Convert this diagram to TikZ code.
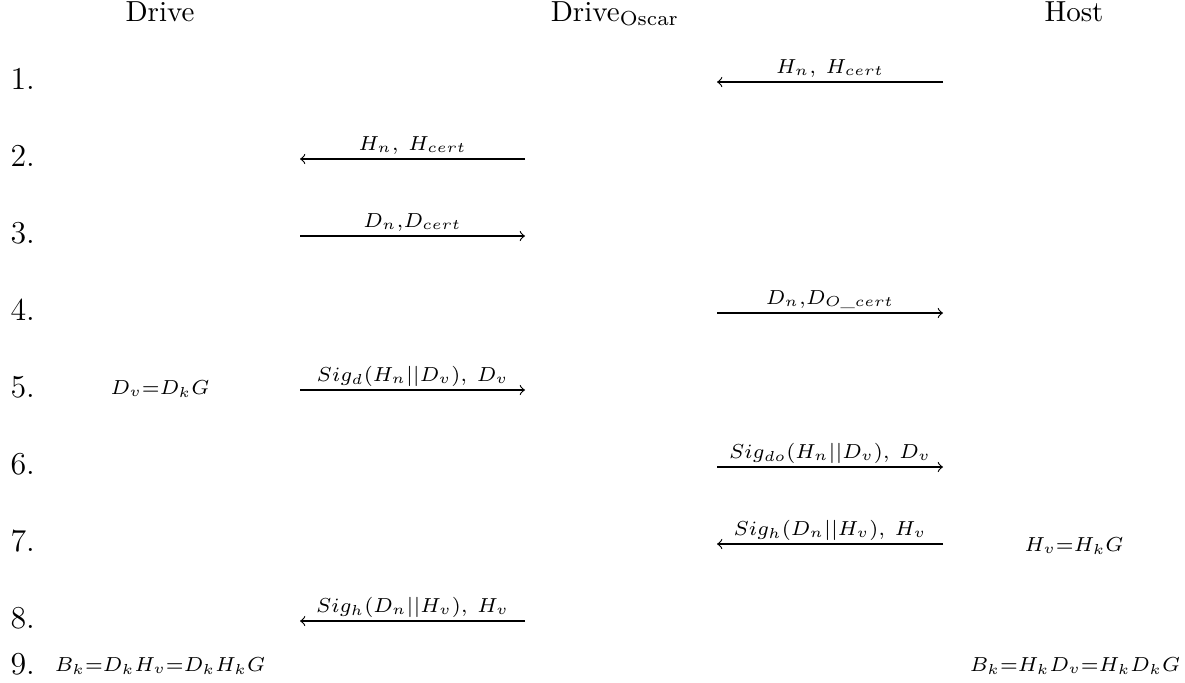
\documentclass[tikz,border=0pt]{standalone}
\usepackage{amsmath}
\begin{document}
\begin{tikzpicture}[x=0.3448pt,y=-0.3448pt,
  num/.style={font=\fontsize{11}{13}\selectfont, anchor=base west, inner sep=0pt},
  head/.style={anchor=base, inner sep=0pt},
  msg/.style={->, line width=0.4pt},
  lab/.style={anchor=base, inner sep=0pt, yshift=3.1pt},
  eqn/.style={anchor=base, inner sep=0pt}]
\useasboundingbox (0,0) rectangle (1185,682);
% headings
\node[head] (hD) at (160,21) {Drive};
\node[head] (hO) at (615,21) {Drive$_{\mathrm{Oscar}}$};
\node[head] (hH) at (1074,21) {Host};
% step numbers
\node[num] (n1) at (10,89) {1.};
\node[num] (n2) at (10,166) {2.};
\node[num] (n3) at (10,243) {3.};
\node[num] (n4) at (10,320) {4.};
\node[num] (n5) at (10,397) {5.};
\node[num] (n6) at (10,474) {6.};
\node[num] (n7) at (10,551) {7.};
\node[num] (n8) at (10,628) {8.};
\node[num] (n9) at (10,674) {9.};
% arrow end points
\coordinate (a1s) at (943,82);  \coordinate (a1e) at (717,82);
\coordinate (a2s) at (525,159); \coordinate (a2e) at (300,159);
\coordinate (a3s) at (300,236); \coordinate (a3e) at (525,236);
\coordinate (a4s) at (717,313); \coordinate (a4e) at (943,313);
\coordinate (a5s) at (300,390); \coordinate (a5e) at (525,390);
\coordinate (a6s) at (717,467); \coordinate (a6e) at (943,467);
\coordinate (a7s) at (943,544); \coordinate (a7e) at (717,544);
\coordinate (a8s) at (525,621); \coordinate (a8e) at (300,621);
% messages
\draw[msg] (a1s) -- (a1e) node[pos=0.5, lab] (l1) {$\scriptstyle H_n,\ H_{cert}$};
\draw[msg] (a2s) -- (a2e) node[pos=0.5, lab] (l2) {$\scriptstyle H_n,\ H_{cert}$};
\draw[msg] (a3s) -- (a3e) node[pos=0.5, lab] (l3) {$\scriptstyle D_n,D_{cert}$};
\draw[msg] (a4s) -- (a4e) node[pos=0.5, lab] (l4) {$\scriptstyle D_n,D_{O\text{\_}cert}$};
\draw[msg] (a5s) -- (a5e) node[pos=0.5, lab] (l5) {$\scriptstyle Sig_d(H_n||D_v),\ D_v$};
\draw[msg] (a6s) -- (a6e) node[pos=0.5, lab] (l6) {$\scriptstyle Sig_{do}(H_n||D_v),\ D_v$};
\draw[msg] (a7s) -- (a7e) node[pos=0.5, lab] (l7) {$\scriptstyle Sig_h(D_n||H_v),\ H_v$};
\draw[msg] (a8s) -- (a8e) node[pos=0.5, lab] (l8) {$\scriptstyle Sig_h(D_n||H_v),\ H_v$};
% computations
\node[eqn] (e5) at (160,394) {$\scriptstyle D_v=D_kG$};
\node[eqn] (e7) at (1074,551) {$\scriptstyle H_v=H_kG$};
\node[eqn] (e9l) at (160,671) {$\scriptstyle B_k=D_kH_v=D_kH_kG$};
\node[eqn] (e9r) at (1075,671) {$\scriptstyle B_k=H_kD_v=H_kD_kG$};
\end{tikzpicture}
\end{document}
